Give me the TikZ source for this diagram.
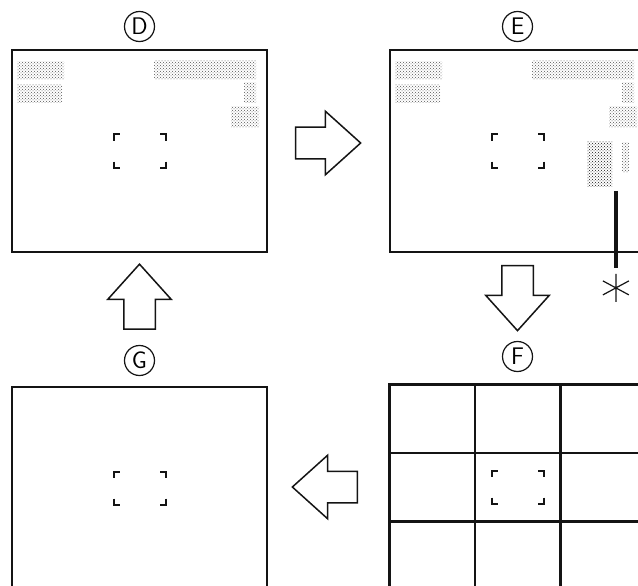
\documentclass[tikz,border=0pt]{standalone}
\usetikzlibrary{positioning,calc,shapes.arrows,patterns}
\definecolor{scanink}{RGB}{20,20,20}
\definecolor{lcdgray}{RGB}{85,85,85}
\tikzset{
  screen/.style={draw=scanink, line width=1.8pt, minimum width=255pt, minimum height=202pt, inner sep=0pt},
  gridline/.style={draw=scanink, line width=2.4pt},
  stagelbl/.style={circle, draw=scanink, line width=1.2pt, minimum size=30pt, inner sep=0pt,
    font=\fontsize{24}{24}\selectfont\sffamily},
  fatarrow/.style={single arrow, draw=scanink, line width=1.5pt, fill=white, minimum height=65pt,
    inner sep=15pt, single arrow head extend=16pt, single arrow tip angle=84},
  focusline/.style={draw=scanink, line width=2pt},
  stipple/.style={pattern=crosshatch dots, pattern color=lcdgray},
  densestipple/.style={pattern=crosshatch dots, pattern color=scanink}
}
% corner brackets round the centre of a screen
\newcommand{\focusmark}[1]{%
  \foreach \sx in {-1,1} \foreach \sy in {-1,1}
    \draw[focusline] ($(#1)+(\sx*26,\sy*10.5)$) -- ++(0,\sy*6) -- ++(-\sx*6,0);}
% dotted display indicators
\newcommand{\lcdtext}[1]{%
  \fill[stipple] ($(#1.north west)+(6,12)$) rectangle ($(#1.north west)+(53,30)$);
  \fill[stipple] ($(#1.north west)+(6,35)$) rectangle ($(#1.north west)+(51,53)$);
  \fill[stipple] ($(#1.north west)+(143,11)$) rectangle ($(#1.north west)+(245,30)$);
  \fill[stipple] ($(#1.north west)+(233,33)$) rectangle ($(#1.north west)+(245,53)$);
  \fill[stipple] ($(#1.north west)+(220,57)$) rectangle ($(#1.north west)+(248,78)$);}

\begin{document}
\begin{tikzpicture}[x=1pt, y=-1pt]
  \useasboundingbox (0,0) rectangle (638,586);
  \fill[white] (0,0) rectangle (638,586);
  \clip (0,0) rectangle (638,586);

  \node[screen] (scrD) at (139.5,151) {};
  \node[screen] (scrE) at (517.5,151) {};
  \node[screen] (scrG) at (139.5,488) {};
  \node[screen, minimum height=204pt] (scrF) at (517.5,487) {};

  \node[stagelbl, above=7pt of scrD] (tagD) {D};
  \node[stagelbl, above=7pt of scrE] (tagE) {E};
  \node[stagelbl, above=10pt of scrG] (tagG) {G};
  \node[stagelbl, above=12pt of scrF] (tagF) {F};

  \lcdtext{scrD}
  \lcdtext{scrE}
  \fill[densestipple] ($(scrE.north west)+(198,92)$) rectangle ($(scrE.north west)+(223,137)$);
  \fill[stipple] ($(scrE.north west)+(233,93)$) rectangle ($(scrE.north west)+(240,123)$);

  \foreach \k in {1,2} {
    \draw[gridline] ($(scrF.north west)!\k/3!(scrF.north east)$) -- ($(scrF.south west)!\k/3!(scrF.south east)$);
    \draw[gridline] ($(scrF.north west)!\k/3!(scrF.south west)$) -- ($(scrF.north east)!\k/3!(scrF.south east)$);
  }
  \draw[gridline] (scrF.north west) rectangle (scrF.south east);

  \focusmark{scrD}
  \focusmark{scrE}
  \focusmark{scrF}
  \focusmark{scrG}

  \coordinate (barTop) at ($(scrE.south east)+(-30,-62)$);
  \coordinate (barEnd) at ($(scrE.south east)+(-30,15)$);
  \coordinate (star) at ($(scrE.south east)+(-30,35)$);
  \draw[scanink, line width=4pt] (barTop) -- (barEnd);
  \draw[scanink, line width=1.2pt] ($(star)+(0,-14)$) -- ($(star)+(0,14)$)
    ($(star)+(-13,-7)$) -- ($(star)+(13,7)$) ($(star)+(-13,7)$) -- ($(star)+(13,-7)$);

  \node[fatarrow, anchor=tail] (goDE) at ($(scrD.east)+(27,-8)$) {};
  \node[fatarrow, shape border rotate=270, anchor=tail] (goEF) at ($(scrE.south)+(0,12)$) {};
  \node[fatarrow, shape border rotate=180, anchor=tail] (goFG) at ($(scrF.west)+(-31,0)$) {};
  \node[fatarrow, shape border rotate=90, anchor=tail] (goGD) at ($(scrD.south)+(0,77)$) {};
\end{tikzpicture}
\end{document}
